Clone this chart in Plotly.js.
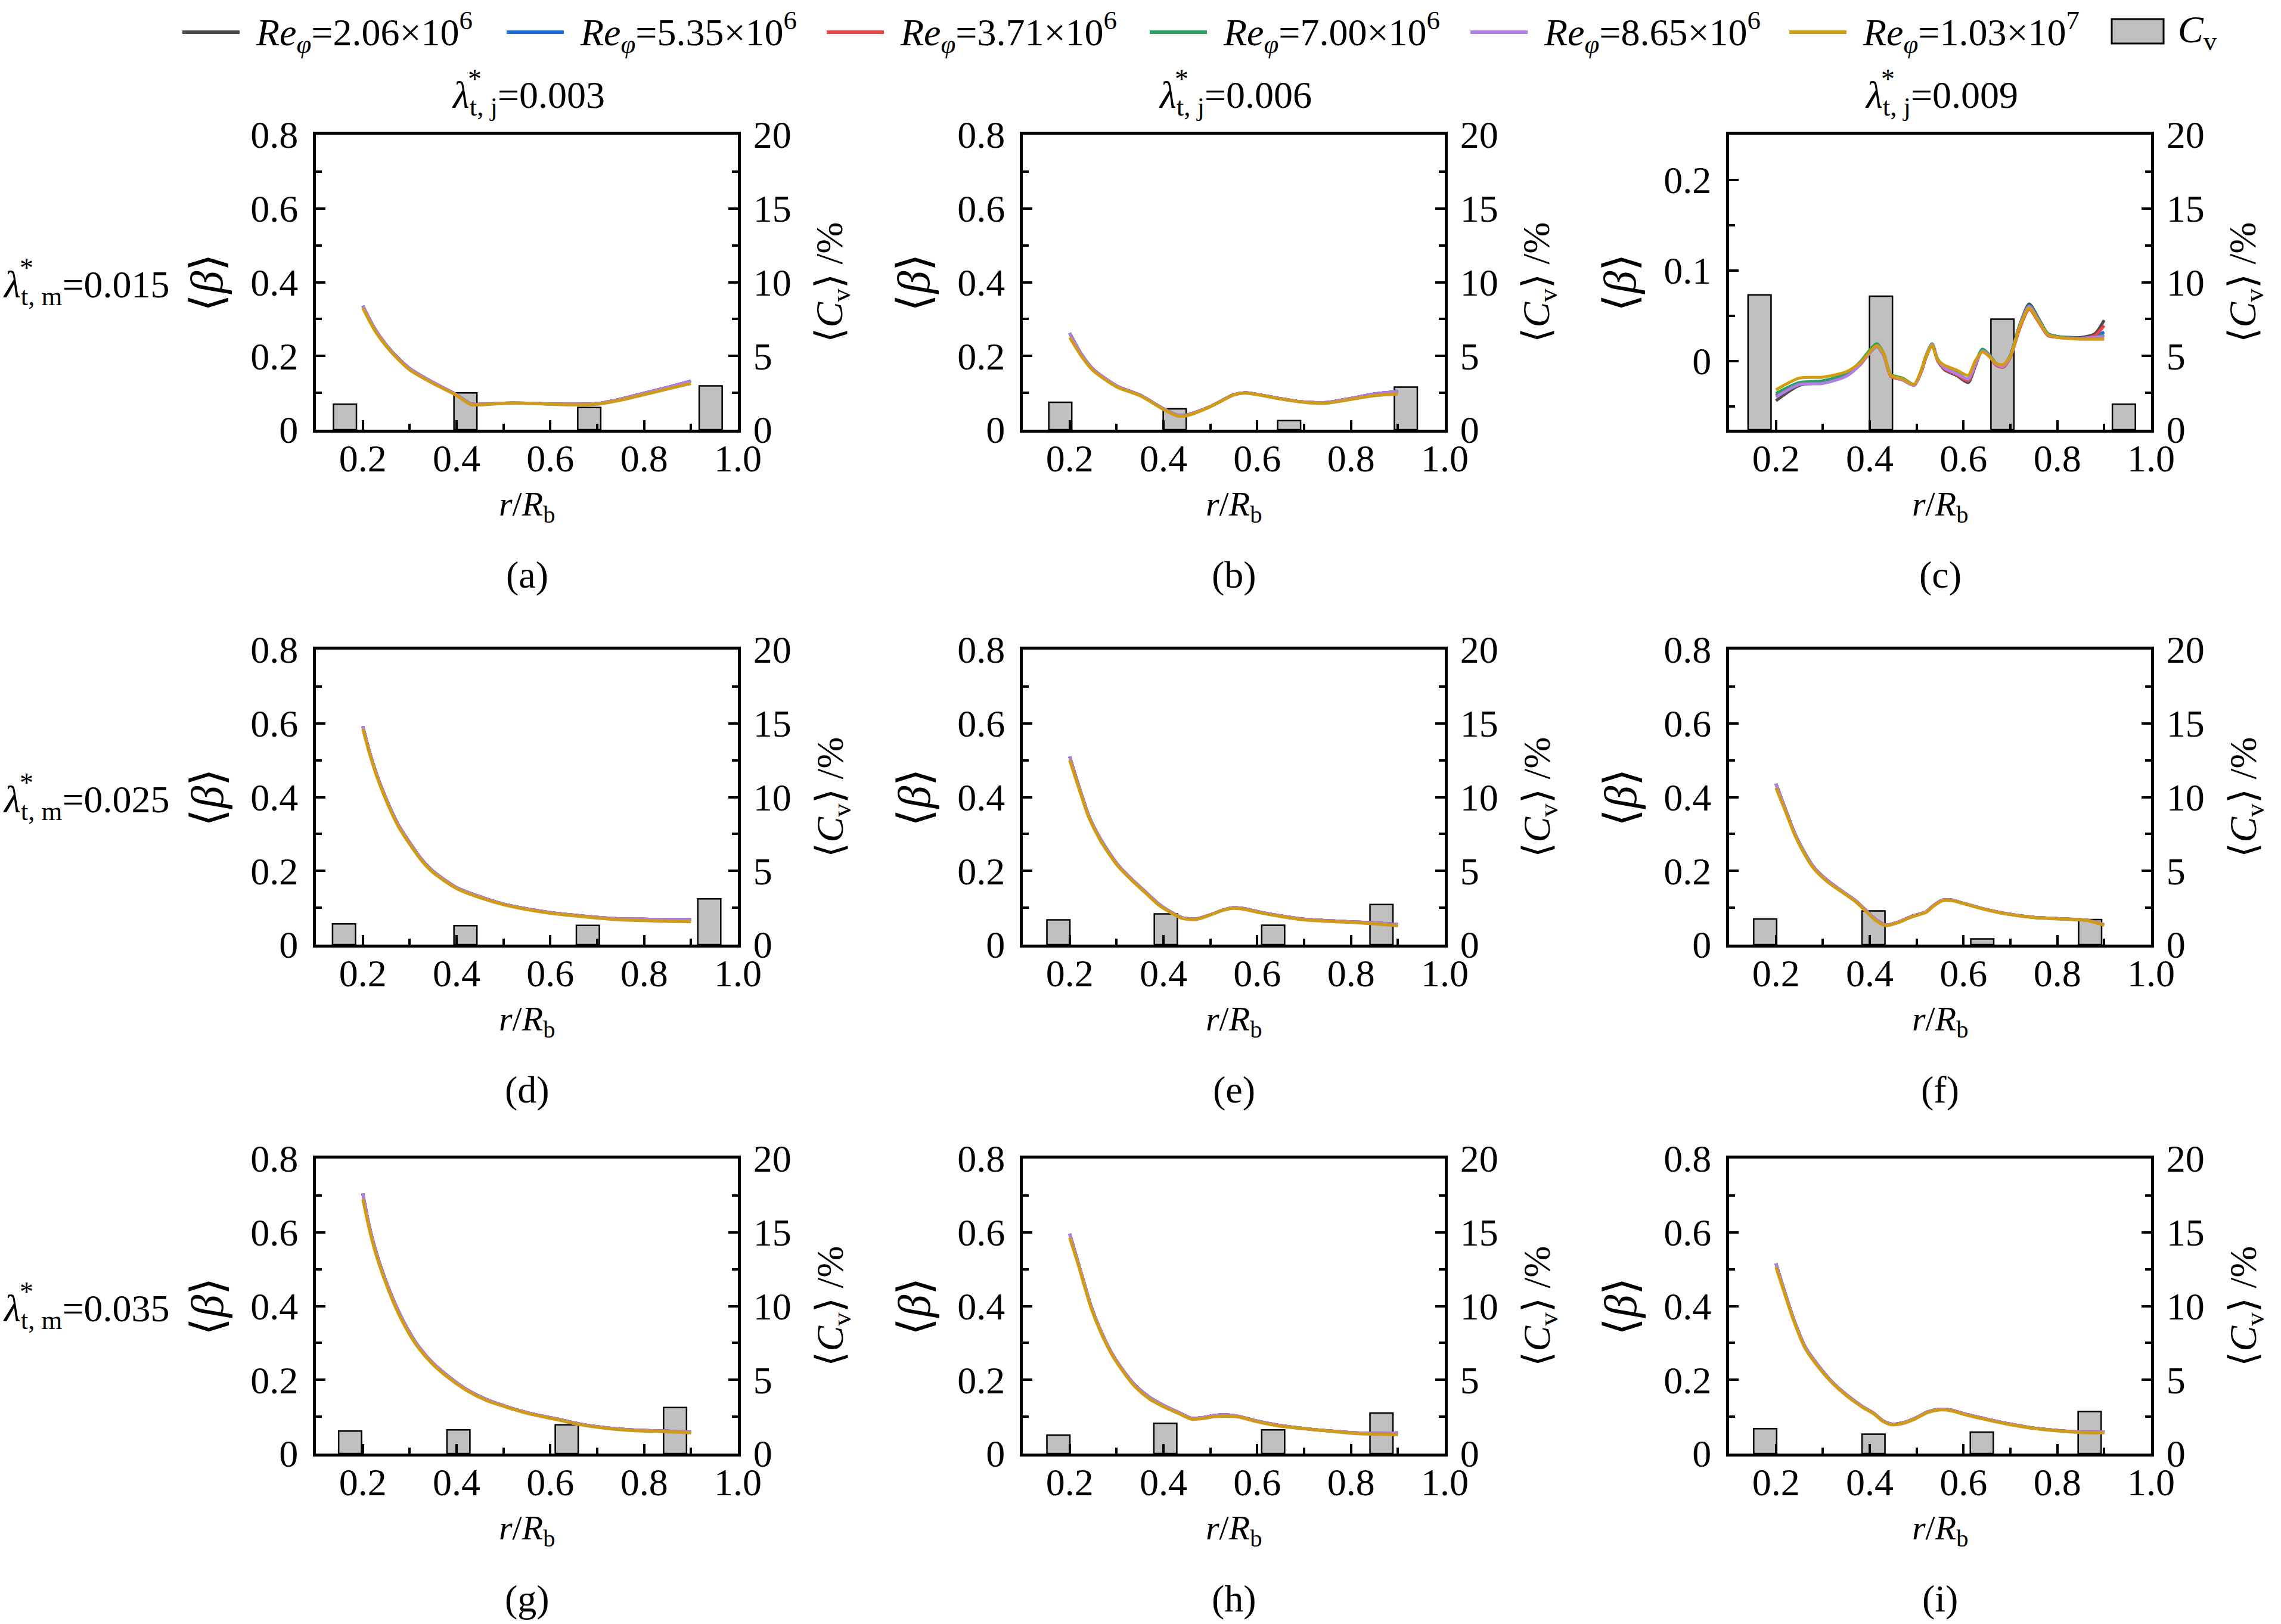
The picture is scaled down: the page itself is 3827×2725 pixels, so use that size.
<!DOCTYPE html>
<html><head><meta charset="utf-8">
<script src="https://cdn.plot.ly/plotly-3.0.1.min.js"></script>
<style>html,body{margin:0;padding:0;background:#fff}#chart{width:3827px;height:2725px}</style>
</head><body><div id="chart"></div>
<script>
// ---------------- DATA ----------------
const legendLabels = [
  "<i>Re</i><sub><i>φ</i></sub>=2.06×10<sup>6</sup>",
  "<i>Re</i><sub><i>φ</i></sub>=5.35×10<sup>6</sup>",
  "<i>Re</i><sub><i>φ</i></sub>=3.71×10<sup>6</sup>",
  "<i>Re</i><sub><i>φ</i></sub>=7.00×10<sup>6</sup>",
  "<i>Re</i><sub><i>φ</i></sub>=8.65×10<sup>6</sup>",
  "<i>Re</i><sub><i>φ</i></sub>=1.03×10<sup>7</sup>"
];
const barLabel = "<i>C</i><sub>v</sub>";
const colTitles = ["0.003", "0.006", "0.009"];
const rowTitles = ["0.015", "0.025", "0.035"];
const panelLetters = ["(a)","(b)","(c)","(d)","(e)","(f)","(g)","(h)","(i)"];
const xTickVals = [0.2, 0.4, 0.6, 0.8, 1.0];

// (a)
const x_a = [0.2,0.225,0.25,0.275,0.3,0.35,0.4,0.43,0.45,0.5,0.55,0.6,0.65,0.7,0.75,0.8,0.85,0.9];
const a_gold = [0.330,0.270,0.226,0.191,0.162,0.125,0.093,0.068,0.067,0.071,0.071,0.069,0.067,0.069,0.080,0.095,0.110,0.125];
const a_rest = [0.336,0.275,0.230,0.195,0.166,0.128,0.095,0.070,0.069,0.072,0.072,0.070,0.069,0.071,0.083,0.099,0.115,0.132];
const cv_a_x = [0.162,0.419,0.683,0.942];
const cv_a = [1.73,2.49,1.51,2.97];

// (b)
const x_b = [0.2,0.225,0.25,0.3,0.35,0.4,0.43,0.45,0.5,0.55,0.575,0.6,0.65,0.7,0.75,0.8,0.85,0.9];
const b_gold = [0.250,0.199,0.160,0.116,0.092,0.055,0.037,0.038,0.062,0.094,0.099,0.095,0.083,0.074,0.072,0.082,0.092,0.097];
const b_rest = [0.262,0.205,0.164,0.119,0.094,0.057,0.039,0.040,0.063,0.095,0.100,0.096,0.084,0.075,0.074,0.085,0.097,0.104];
const cv_b_x = [0.180,0.424,0.668,0.917];
const cv_b = [1.86,1.41,0.62,2.89];

// (c)
const x_c = [0.2,0.25,0.3,0.35,0.38,0.4,0.415,0.43,0.445,0.47,0.495,0.51,0.52,0.533,0.545,0.56,0.585,0.61,0.625,0.64,0.655,0.67,0.685,0.7,0.72,0.74,0.76,0.78,0.8,0.85,0.88,0.9];
const c_gray   = [-0.044,-0.027,-0.024,-0.016,-0.004,0.009,0.016,0.006,-0.016,-0.021,-0.027,-0.012,0.004,0.018,0.000,-0.010,-0.016,-0.024,-0.006,0.012,0.006,-0.004,-0.006,0.006,0.040,0.063,0.047,0.030,0.027,0.026,0.030,0.045];
const c_blue   = [-0.038,-0.025,-0.023,-0.015,-0.003,0.010,0.017,0.007,-0.016,-0.020,-0.026,-0.011,0.005,0.018,0.001,-0.008,-0.014,-0.021,-0.004,0.012,0.006,-0.004,-0.005,0.006,0.039,0.061,0.046,0.030,0.027,0.025,0.027,0.032];
const c_red    = [-0.039,-0.026,-0.024,-0.016,-0.004,0.009,0.016,0.006,-0.017,-0.021,-0.026,-0.012,0.004,0.017,0.000,-0.009,-0.015,-0.022,-0.005,0.011,0.005,-0.005,-0.007,0.004,0.036,0.057,0.043,0.028,0.026,0.025,0.028,0.039];
const c_green  = [-0.036,-0.024,-0.022,-0.014,-0.001,0.012,0.019,0.008,-0.015,-0.019,-0.026,-0.010,0.006,0.019,0.002,-0.007,-0.013,-0.020,-0.003,0.013,0.007,-0.003,-0.005,0.006,0.040,0.061,0.046,0.030,0.027,0.025,0.026,0.029];
const c_purple = [-0.040,-0.026,-0.025,-0.017,-0.004,0.009,0.016,0.006,-0.016,-0.021,-0.027,-0.011,0.005,0.018,0.001,-0.008,-0.014,-0.020,-0.004,0.011,0.006,-0.004,-0.006,0.005,0.039,0.060,0.045,0.029,0.026,0.025,0.026,0.027];
const c_gold   = [-0.032,-0.019,-0.018,-0.012,-0.002,0.010,0.017,0.008,-0.016,-0.020,-0.026,-0.010,0.005,0.017,0.001,-0.005,-0.010,-0.016,0.000,0.010,0.005,-0.003,-0.004,0.005,0.038,0.058,0.044,0.029,0.026,0.024,0.024,0.024];
const cv_c_x = [0.165,0.424,0.683,0.942];
const cv_c = [9.14,9.05,7.49,1.73];

// (d)
const x_d = [0.2,0.215,0.23,0.25,0.275,0.3,0.325,0.35,0.4,0.45,0.5,0.55,0.6,0.65,0.7,0.75,0.8,0.85,0.9];
const d_gold = [0.585,0.515,0.455,0.390,0.322,0.272,0.228,0.195,0.152,0.127,0.108,0.095,0.085,0.078,0.072,0.067,0.065,0.063,0.062];
const d_rest = [0.592,0.520,0.460,0.395,0.327,0.277,0.232,0.199,0.155,0.130,0.110,0.097,0.087,0.080,0.074,0.070,0.069,0.068,0.068];
const cv_d_x = [0.160,0.419,0.680,0.939];
const cv_d = [1.40,1.28,1.30,3.10];

// (e)
const x_e = [0.2,0.22,0.24,0.265,0.3,0.33,0.36,0.39,0.415,0.44,0.47,0.5,0.525,0.55,0.575,0.61,0.65,0.7,0.75,0.8,0.85,0.9];
const e_gold = [0.500,0.422,0.347,0.283,0.217,0.177,0.142,0.107,0.087,0.071,0.068,0.080,0.092,0.098,0.095,0.085,0.076,0.067,0.063,0.060,0.056,0.051];
const e_rest = [0.510,0.428,0.352,0.288,0.221,0.180,0.145,0.110,0.089,0.073,0.070,0.081,0.093,0.100,0.097,0.087,0.078,0.069,0.065,0.062,0.059,0.055];
const cv_e_x = [0.176,0.405,0.634,0.865];
const cv_e = [1.68,2.08,1.31,2.72];

// (f)
const x_f = [0.2,0.22,0.24,0.26,0.28,0.31,0.34,0.37,0.4,0.415,0.435,0.46,0.49,0.52,0.535,0.555,0.575,0.6,0.64,0.69,0.75,0.81,0.865,0.9];
const f_gold = [0.425,0.362,0.297,0.247,0.207,0.170,0.143,0.116,0.080,0.063,0.051,0.059,0.075,0.087,0.103,0.119,0.119,0.111,0.097,0.083,0.073,0.069,0.065,0.052];
const f_rest = [0.436,0.368,0.302,0.252,0.211,0.174,0.146,0.119,0.083,0.066,0.053,0.061,0.077,0.089,0.105,0.121,0.121,0.112,0.098,0.084,0.074,0.070,0.066,0.054];
const cv_f_x = [0.177,0.408,0.640,0.870];
const cv_f = [1.74,2.28,0.38,1.70];

// (g)
const x_g = [0.2,0.213,0.226,0.245,0.27,0.296,0.32,0.35,0.385,0.42,0.465,0.51,0.56,0.61,0.66,0.72,0.78,0.85,0.9];
const g_gold = [0.690,0.613,0.549,0.476,0.396,0.331,0.284,0.241,0.203,0.172,0.143,0.124,0.106,0.093,0.079,0.068,0.062,0.059,0.056];
const g_rest = [0.705,0.622,0.557,0.483,0.403,0.337,0.289,0.245,0.207,0.175,0.146,0.126,0.108,0.095,0.081,0.070,0.064,0.061,0.058];
const cv_g_x = [0.173,0.404,0.635,0.866];
const cv_g = [1.53,1.61,1.95,3.12];

// (h)
const x_h = [0.2,0.217,0.23,0.245,0.265,0.29,0.315,0.34,0.37,0.4,0.435,0.46,0.485,0.51,0.535,0.56,0.6,0.65,0.7,0.75,0.81,0.86,0.9];
const h_gold = [0.585,0.517,0.460,0.397,0.332,0.268,0.220,0.180,0.148,0.127,0.107,0.093,0.095,0.100,0.101,0.099,0.086,0.074,0.067,0.061,0.054,0.052,0.051];
const h_rest = [0.596,0.523,0.466,0.402,0.337,0.272,0.224,0.185,0.153,0.131,0.110,0.096,0.098,0.104,0.105,0.101,0.088,0.076,0.068,0.062,0.056,0.055,0.056];
const cv_h_x = [0.176,0.404,0.634,0.865];
const cv_h = [1.25,2.05,1.61,2.75];

// (i)
const x_i = [0.2,0.22,0.24,0.263,0.295,0.32,0.352,0.384,0.41,0.428,0.447,0.472,0.497,0.523,0.548,0.573,0.61,0.655,0.7,0.75,0.815,0.865,0.9];
const i_gold = [0.505,0.427,0.352,0.283,0.227,0.191,0.155,0.126,0.106,0.087,0.078,0.082,0.094,0.111,0.118,0.116,0.103,0.090,0.078,0.068,0.060,0.056,0.056];
const i_rest = [0.515,0.433,0.357,0.288,0.231,0.194,0.158,0.128,0.108,0.089,0.080,0.084,0.096,0.113,0.120,0.118,0.105,0.092,0.080,0.069,0.061,0.058,0.059];
const cv_i_x = [0.177,0.408,0.639,0.869];
const cv_i = [1.69,1.31,1.45,2.85];

// ---------------- STYLE / LAYOUT ----------------
const lineColors = ["#4d4d4d","#1f6fdc","#ec4446","#2aa163","#b07fe6","#d39c10"];
const FONT = "Liberation Serif, Times New Roman, serif";
const FS = 64;
const W = 3827, H = 2725;
const colL = [530, 1716, 2901], rowT = [226, 1090, 1944], PW = 708, PH = 495;

const panels = [
  {x:x_a, ys:[a_rest,a_rest,a_rest,a_rest,a_rest,a_gold], bx:cv_a_x, bh:cv_a},
  {x:x_b, ys:[b_rest,b_rest,b_rest,b_rest,b_rest,b_gold], bx:cv_b_x, bh:cv_b},
  {x:x_c, ys:[c_gray,c_blue,c_red,c_green,c_purple,c_gold], bx:cv_c_x, bh:cv_c, special:true},
  {x:x_d, ys:[d_rest,d_rest,d_rest,d_rest,d_rest,d_gold], bx:cv_d_x, bh:cv_d},
  {x:x_e, ys:[e_rest,e_rest,e_rest,e_rest,e_rest,e_gold], bx:cv_e_x, bh:cv_e},
  {x:x_f, ys:[f_rest,f_rest,f_rest,f_rest,f_rest,f_gold], bx:cv_f_x, bh:cv_f},
  {x:x_g, ys:[g_rest,g_rest,g_rest,g_rest,g_rest,g_gold], bx:cv_g_x, bh:cv_g},
  {x:x_h, ys:[h_rest,h_rest,h_rest,h_rest,h_rest,h_gold], bx:cv_h_x, bh:cv_h},
  {x:x_i, ys:[i_rest,i_rest,i_rest,i_rest,i_rest,i_gold], bx:cv_i_x, bh:cv_i}
];

const traces = [];
const layout = {
  width: W, height: H, margin: {l:0, r:0, t:0, b:0},
  paper_bgcolor: "#fff", plot_bgcolor: "#fff",
  showlegend: false, font: {family: FONT, size: FS, color: "#000"},
  annotations: [], shapes: []
};
const tickfont = {family: FONT, size: FS, color: "#000"};
const ann = (text, xpx, ypx, extra, fs) => Object.assign({
  text: text, xref: "paper", yref: "paper", x: xpx / W, y: 1 - ypx / H,
  showarrow: false, font: {family: FONT, size: fs || FS, color: "#000"},
  xanchor: "center", yanchor: "middle"
}, extra || {});

panels.forEach((p, k) => {
  const r = Math.floor(k / 3), c = k % 3;
  const xid = k === 0 ? "x" : "x" + (k + 1);
  const ybN = 2 * k + 1, ylN = 2 * k + 2;
  const yb = ybN === 1 ? "y" : "y" + ybN, yl = "y" + ylN;
  const xdom = [colL[c] / W, (colL[c] + PW) / W];
  const ydom = [1 - (rowT[r] + PH) / H, 1 - rowT[r] / H];

  layout[k === 0 ? "xaxis" : "xaxis" + (k + 1)] = {
    domain: xdom, anchor: yb, range: [0.1, 1.0], tickvals: xTickVals, tickformat: ".1f",
    showline: true, linewidth: 5, linecolor: "#000", mirror: true,
    ticks: "inside", ticklen: 16, tickwidth: 4, tickcolor: "#000",
    minor: {ticks: "inside", ticklen: 10, tickwidth: 4, dtick: 0.1, tick0: 0, tickcolor: "#000", showgrid: false},
    showgrid: false, zeroline: false, tickfont: tickfont, ticklabelstandoff: -12, fixedrange: true
  };
  layout[ybN === 1 ? "yaxis" : "yaxis" + ybN] = {
    domain: ydom, anchor: xid, side: "right", range: [0, 20], dtick: 5, tick0: 0,
    showline: true, linewidth: 5, linecolor: "#000",
    ticks: "inside", ticklen: 16, tickwidth: 4, tickcolor: "#000",
    minor: {ticks: "inside", ticklen: 10, tickwidth: 4, dtick: 2.5, tick0: 0, tickcolor: "#000", showgrid: false},
    showgrid: false, zeroline: false, tickfont: tickfont, ticklabelstandoff: 8, fixedrange: true
  };
  layout["yaxis" + ylN] = {
    domain: ydom, anchor: xid, overlaying: yb, side: "left",
    range: p.special ? [-0.076, 0.25] : [0, 0.8],
    dtick: p.special ? 0.1 : 0.2, tick0: 0,
    showline: true, linewidth: 5, linecolor: "#000",
    ticks: "inside", ticklen: 16, tickwidth: 4, tickcolor: "#000",
    minor: {ticks: "inside", ticklen: 10, tickwidth: 4, dtick: p.special ? 0.05 : 0.1, tick0: 0, tickcolor: "#000", showgrid: false},
    showgrid: false, zeroline: false, tickfont: tickfont, ticklabelstandoff: 12, fixedrange: true
  };

  traces.push({
    type: "bar", x: p.bx, y: p.bh, xaxis: xid, yaxis: yb, width: 0.049,
    marker: {color: "#c0c0c0", line: {color: "#000", width: 2.5}},
    hoverinfo: "skip", name: "Cv"
  });
  p.ys.forEach((ys, s) => {
    traces.push({
      type: "scatter", mode: "lines", x: p.x, y: ys, xaxis: xid, yaxis: yl,
      line: {color: lineColors[s], width: 5, shape: "spline", smoothing: 0.7},
      hoverinfo: "skip", name: legendLabels[s]
    });
  });

  const cx = colL[c] + PW / 2, cy = rowT[r] + PH / 2;
  layout.annotations.push(ann("⟨<i>β</i>⟩", colL[c] - 183, cy, {textangle: -90}, 76));
  layout.annotations.push(ann("⟨<i>C</i><sub>v</sub>⟩ /%", colL[c] + PW + 158, cy, {textangle: -90}));
  layout.annotations.push(ann("<i>r</i>/<i>R</i><sub>b</sub>", cx, rowT[r] + PH + 128, null, 58));
  layout.annotations.push(ann(panelLetters[k], cx, rowT[r] + PH + 243));
});

// column titles (star stacked above the subscript)
colTitles.forEach((t, c) => {
  const cx = colL[c] + PW / 2;
  layout.annotations.push(ann("<i>λ</i><sub>t, j</sub>=" + t, cx - 128, 164, {xanchor: "left"}));
  layout.annotations.push(ann("*", cx - 88, 132, null, 46));
});
// row titles
rowTitles.forEach((t, r) => {
  const cy = rowT[r] + PH / 2;
  layout.annotations.push(ann("<i>λ</i><sub>t, m</sub>=" + t, 3, cy + 8, {xanchor: "left"}));
  layout.annotations.push(ann("*", 44, cy - 24, null, 46));
});

// legend (drawn manually to match sample lengths)
const legTextX = [427, 971, 1508, 2050, 2588, 3123];
const legY = 54;
legendLabels.forEach((lab, s) => {
  layout.shapes.push({type: "line", xref: "paper", yref: "paper",
    x0: (legTextX[s] - 121) / W, x1: (legTextX[s] - 25) / W, y0: 1 - legY / H, y1: 1 - legY / H,
    line: {color: lineColors[s], width: 6}});
  layout.annotations.push(ann(lab, legTextX[s], legY, {xanchor: "left"}));
});
layout.shapes.push({type: "rect", xref: "paper", yref: "paper",
  x0: 3543 / W, x1: 3630 / W, y0: 1 - 73 / H, y1: 1 - 32 / H,
  fillcolor: "#c0c0c0", line: {color: "#000", width: 3}});
layout.annotations.push(ann(barLabel, 3652, legY, {xanchor: "left"}));

Plotly.newPlot("chart", traces, layout, {staticPlot: true, displayModeBar: false});
</script>
</body></html>
